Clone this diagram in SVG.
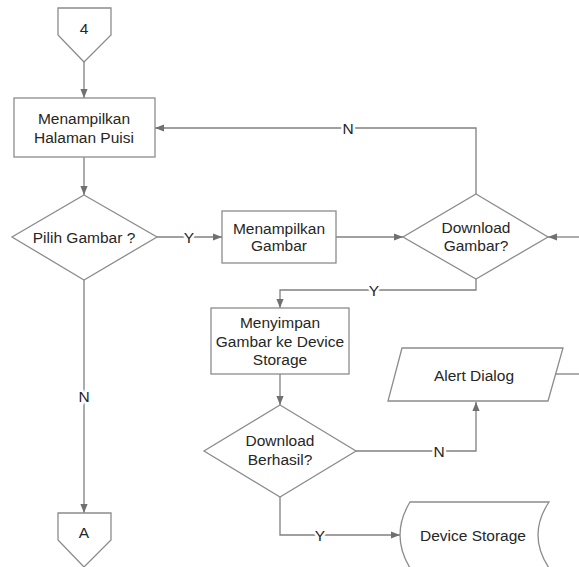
<svg xmlns="http://www.w3.org/2000/svg" width="579" height="567" viewBox="0 0 579 567">
<style>
.s{fill:#fff;stroke:#8c8c8c;stroke-width:1.3}
.t{font-family:"Liberation Sans",Arial,sans-serif;font-size:15.5px;fill:#262626;text-anchor:middle;dominant-baseline:central}
.c{fill:none;stroke:#808080;stroke-width:1.3}
.l{font-family:"Liberation Sans",Arial,sans-serif;font-size:15.5px;fill:#262626;text-anchor:middle;dominant-baseline:central;stroke:#fff;stroke-width:5;paint-order:stroke}
</style>
<defs>
<marker id="a" viewBox="0 0 10 10" refX="10" refY="5" markerWidth="9" markerHeight="9" markerUnits="userSpaceOnUse" orient="auto">
<path d="M0,1 L10,5 L0,9 Z" fill="#707070"/>
</marker>
</defs>
<rect width="579" height="567" fill="#fff"/>
<g id="connectors">
<path class="c" d="M84,62 V98" marker-end="url(#a)"/>
<path class="c" d="M84,157 V195" marker-end="url(#a)"/>
<path class="c" d="M157,237 H222" marker-end="url(#a)"/>
<path class="c" d="M336,237 H403" marker-end="url(#a)"/>
<path class="c" d="M579,237 H548" marker-end="url(#a)"/>
<path class="c" d="M476,194 V128 H155" marker-end="url(#a)"/>
<path class="c" d="M476,279 V290 H280 V308" marker-end="url(#a)"/>
<path class="c" d="M280,374 V405" marker-end="url(#a)"/>
<path class="c" d="M356,451 H476 V402" marker-end="url(#a)"/>
<path class="c" d="M280,497 V535 H400" marker-end="url(#a)"/>
<path class="c" d="M84,280 V513" marker-end="url(#a)"/>
<path class="c" d="M555,374 H579"/>
<text class="l" x="189" y="237">Y</text>
<text class="l" x="348" y="128">N</text>
<text class="l" x="374" y="290">Y</text>
<text class="l" x="439" y="451">N</text>
<text class="l" x="320" y="535">Y</text>
<text class="l" x="84" y="396">N</text>
</g>
<g id="n4">
<path class="s" d="M58,8 H111 V35 L84,62 L58,35 Z"/>
<text class="t" x="84" y="28">4</text>
</g>
<g id="menampilkanHalaman">
<rect class="s" x="14" y="98" width="141" height="59"/>
<text class="t" x="84" y="118">Menampilkan</text>
<text class="t" x="84" y="137">Halaman Puisi</text>
</g>
<g id="pilihGambar">
<path class="s" d="M84,195 L157,237 L84,280 L12,237 Z"/>
<text class="t" x="84" y="237">Pilih Gambar ?</text>
</g>
<g id="menampilkanGambar">
<rect class="s" x="222" y="211" width="114" height="52"/>
<text class="t" x="279" y="228">Menampilkan</text>
<text class="t" x="279" y="245">Gambar</text>
</g>
<g id="downloadGambar">
<path class="s" d="M476,194 L548,237 L476,279 L403,237 Z"/>
<text class="t" x="476" y="227">Download</text>
<text class="t" x="476" y="245">Gambar?</text>
</g>
<g id="menyimpan">
<rect class="s" x="211" y="308" width="138" height="66"/>
<text class="t" x="280" y="322">Menyimpan</text>
<text class="t" x="280" y="341">Gambar ke Device</text>
<text class="t" x="280" y="359">Storage</text>
</g>
<g id="downloadBerhasil">
<path class="s" d="M280,405 L356,451 L280,497 L204,451 Z"/>
<text class="t" x="280" y="440">Download</text>
<text class="t" x="280" y="459">Berhasil?</text>
</g>
<g id="alertDialog">
<path class="s" d="M402,348 H563 L548,401 H388 Z"/>
<text class="t" x="474" y="375">Alert Dialog</text>
</g>
<g id="deviceStorage">
<path class="s" d="M410,502 H549 Q527,535 549,568 H410 Q390,535 410,502 Z"/>
<text class="t" x="473" y="535">Device Storage</text>
</g>
<g id="nA">
<path class="s" d="M58,513 H111 V540 L84,567 L58,540 Z"/>
<text class="t" x="84" y="532">A</text>
</g>
</svg>
